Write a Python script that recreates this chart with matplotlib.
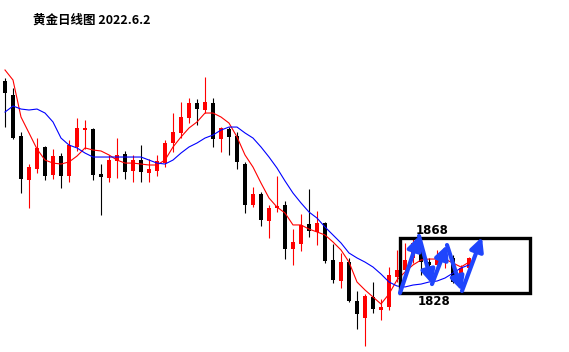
import matplotlib
matplotlib.use("Agg")
import matplotlib.pyplot as plt
import numpy as np

plt.rcParams["font.family"] = ["Noto Sans CJK SC", "DejaVu Sans"]

TITLE = "黄金日线图 2022.6.2"

opens = [1982.2, 1972.0, 1942.2, 1910.2, 1918.2, 1934.2, 1913.8, 1927.6, 1913.1, 1934.2,
         1946.5, 1947.3, 1914.5, 1911.6, 1924.0, 1929.1, 1916.7, 1924.7, 1915.3, 1916.7,
         1922.5, 1937.1, 1944.4, 1955.3, 1966.2, 1961.1, 1966.2, 1940.0, 1947.3, 1942.2,
         1921.8, 1892.0, 1900.0, 1880.4, 1889.8, 1892.0, 1860.0, 1863.6, 1878.2, 1872.4,
         1878.9, 1852.0, 1836.7, 1850.5, 1822.2, 1809.8, 1825.1, 1815.6, 1817.8, 1839.6,
         1844.7, 1853.5, 1864.4, 1850.5, 1848.4, 1850.5, 1853.5, 1838.9, 1846.2]
highs = [1984.4, 1977.1, 1945.1, 1921.8, 1940.7, 1934.9, 1932.7, 1929.8, 1939.3, 1955.3,
         1953.8, 1948.0, 1921.8, 1928.4, 1940.7, 1931.3, 1928.4, 1935.6, 1925.5, 1928.4,
         1939.3, 1958.9, 1966.9, 1969.8, 1969.1, 1985.1, 1969.8, 1948.7, 1948.7, 1945.1,
         1923.3, 1905.1, 1901.5, 1892.0, 1913.1, 1894.9, 1874.5, 1885.5, 1903.6, 1887.6,
         1879.6, 1863.6, 1857.1, 1853.5, 1829.5, 1827.3, 1836.0, 1823.6, 1846.9, 1859.3,
         1864.4, 1868.0, 1866.5, 1853.5, 1859.3, 1857.1, 1855.6, 1848.4, 1854.2]
lows = [1948.7, 1940.0, 1900.7, 1889.8, 1915.3, 1910.2, 1910.9, 1904.4, 1908.7, 1931.3,
        1932.7, 1910.2, 1884.7, 1908.7, 1911.6, 1910.9, 1908.7, 1908.7, 1908.7, 1913.1,
        1919.6, 1930.5, 1940.7, 1951.6, 1950.2, 1958.9, 1934.2, 1930.5, 1928.4, 1918.2,
        1886.2, 1890.5, 1876.7, 1868.0, 1886.9, 1852.7, 1848.4, 1858.5, 1868.7, 1862.9,
        1849.8, 1835.3, 1831.6, 1821.5, 1801.8, 1789.5, 1813.5, 1808.4, 1815.6, 1836.0,
        1842.5, 1849.8, 1841.1, 1844.7, 1846.2, 1846.2, 1835.3, 1836.0, 1843.3]
closes = [1973.5, 1940.7, 1910.9, 1919.6, 1933.5, 1913.1, 1927.6, 1913.1, 1935.6, 1948.0,
          1948.0, 1913.8, 1912.4, 1924.7, 1928.4, 1916.0, 1924.7, 1916.0, 1918.2, 1924.0,
          1937.1, 1945.1, 1956.0, 1966.2, 1961.8, 1966.9, 1940.0, 1948.0, 1941.5, 1923.3,
          1892.0, 1900.0, 1881.1, 1889.8, 1891.3, 1860.0, 1865.1, 1877.5, 1873.1, 1878.9,
          1851.3, 1837.5, 1850.5, 1822.2, 1812.7, 1825.8, 1816.4, 1817.8, 1841.1, 1844.7,
          1852.0, 1864.4, 1850.5, 1848.4, 1852.0, 1854.2, 1836.0, 1846.2, 1853.5]

ma_fast = [1990.2, 1982.9, 1956.0, 1944.4, 1932.7, 1924.7, 1922.5, 1921.8, 1923.3, 1927.6,
           1933.5, 1932.0, 1931.3, 1928.4, 1924.7, 1922.5, 1922.5, 1921.8, 1921.1, 1921.1,
           1924.7, 1934.2, 1941.5, 1948.0, 1952.4, 1958.9, 1958.9, 1956.0, 1951.6, 1941.5,
           1928.4, 1919.6, 1908.0, 1897.1, 1890.5, 1886.2, 1877.5, 1877.5, 1874.5, 1872.4,
           1870.2, 1865.1, 1859.3, 1850.5, 1836.0, 1830.2, 1825.1, 1820.0, 1827.3, 1837.5,
           1843.3, 1848.4, 1852.0, 1852.7, 1852.7, 1852.7, 1849.8, 1846.9, 1850.5]
ma_slow = [1959.6, 1964.0, 1961.8, 1961.1, 1961.8, 1958.9, 1952.4, 1940.7, 1935.6, 1933.5,
           1929.8, 1926.9, 1926.9, 1926.9, 1926.9, 1926.9, 1926.9, 1926.9, 1924.7, 1922.5,
           1921.8, 1924.7, 1929.8, 1934.2, 1937.1, 1940.7, 1942.9, 1946.5, 1948.7, 1948.7,
           1944.4, 1940.7, 1934.2, 1926.9, 1918.9, 1909.5, 1900.7, 1893.5, 1886.9, 1882.5,
           1876.0, 1870.2, 1864.4, 1857.1, 1853.5, 1850.5, 1846.9, 1841.8, 1836.0, 1833.1,
           1832.4, 1833.8, 1834.5, 1836.0, 1836.7, 1838.9, 1842.5, 1846.2, 1848.4]

# range box and forecast zigzag (candle index, price)
box_x = (49.375, 65.625)
box_high, box_low = 1868, 1828
zigzag_x = [49.375, 51.75, 53.375, 55.25, 57.125, 59.625]
zigzag_y = [1828.0, 1869.5, 1834.5, 1862.9, 1829.5, 1868.7]

UP = "#ff0000"
DOWN = "#000000"
ARROW = "#1f45fc"

fig = plt.figure(figsize=(5.69, 3.52), dpi=100)
ax = fig.add_axes([0, 0, 1, 1])
ax.set_axis_off()

x = np.arange(len(opens))
o, h, l, c = (np.array(v) for v in (opens, highs, lows, closes))
colors = np.where(c >= o, UP, DOWN)

ax.vlines(x, l, h, colors=colors, linewidth=0.8, zorder=2)
body = np.maximum(np.abs(c - o), 1.0)
ax.bar(x, body, bottom=np.minimum(o, c), width=0.62, color=colors, linewidth=0, zorder=3)

ax.plot(x, ma_fast, color="#ff0000", linewidth=0.8, zorder=4)
ax.plot(x, ma_slow, color="#0000ff", linewidth=0.8, zorder=4)

ax.add_patch(plt.Rectangle((box_x[0], box_low), box_x[1] - box_x[0], box_high - box_low,
                           fill=False, edgecolor="black", linewidth=2.4, zorder=5))

for i in range(len(zigzag_x) - 1):
    ax.annotate("", xy=(zigzag_x[i + 1], zigzag_y[i + 1]), xytext=(zigzag_x[i], zigzag_y[i]),
                arrowprops=dict(arrowstyle="-|>,head_length=0.8,head_width=0.4",
                                color=ARROW, linewidth=3, shrinkA=0, shrinkB=0), zorder=6)

ax.text(53.4, 1873.8, str(box_high), ha="center", va="center", fontsize=8.5,
        fontweight="bold", family=["DejaVu Sans"], zorder=7)
ax.text(53.6, 1821.5, str(box_low), ha="center", va="center", fontsize=8.5,
        fontweight="bold", family=["DejaVu Sans"], zorder=7)

fig.text(33 / 569, 1 - 20 / 352, TITLE, ha="left", va="center", fontsize=9, fontweight="bold")

ax.set_xlim(-0.625, 70.5)
ax.set_ylim(1785.1, 2041.1)

fig.savefig("out.png", dpi=100)
plt.close(fig)
